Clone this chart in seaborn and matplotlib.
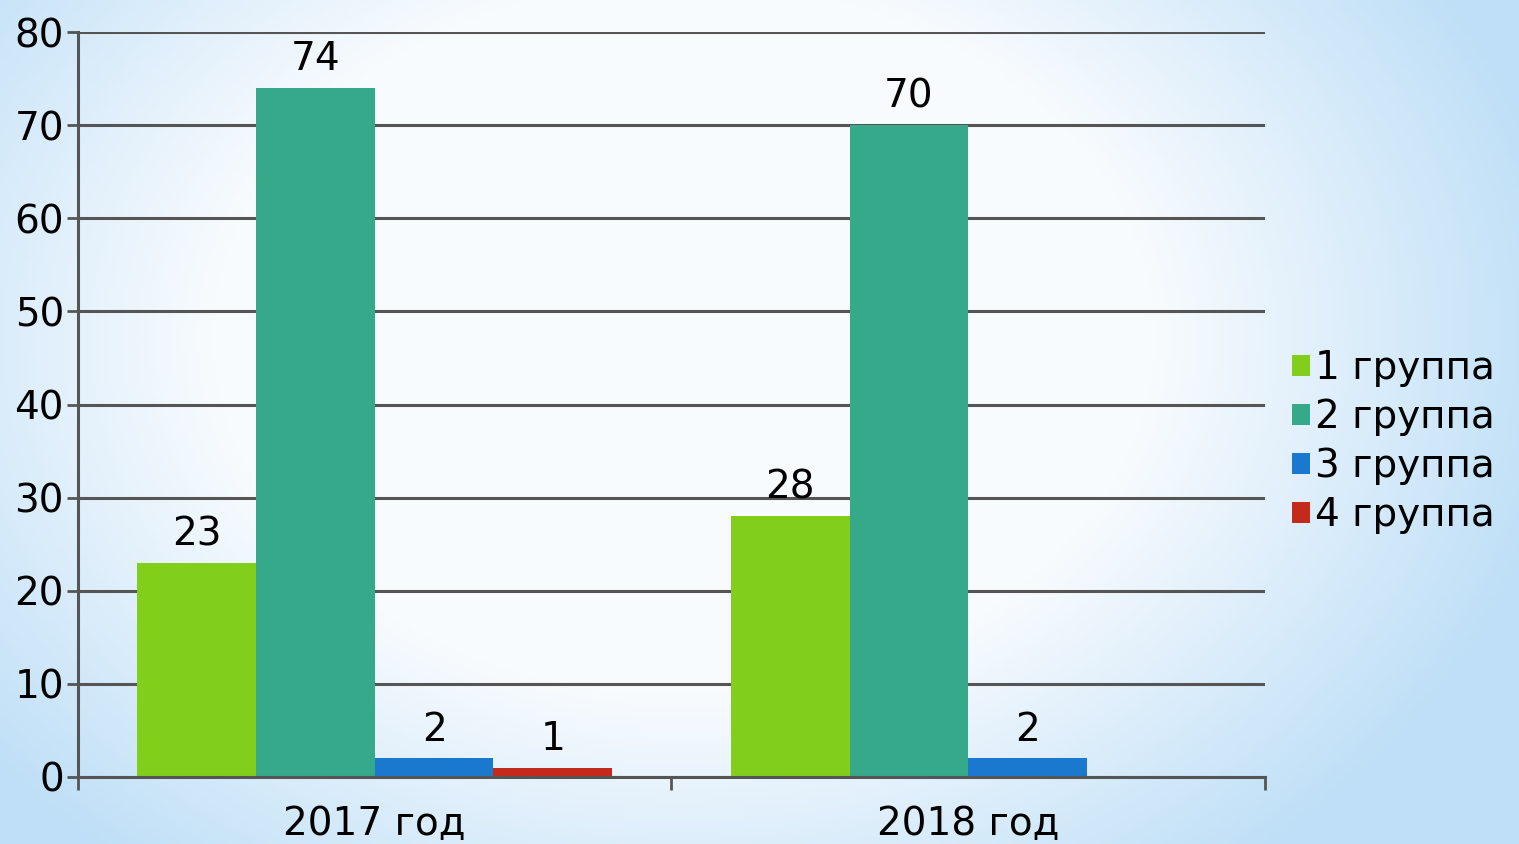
import numpy as np
import pandas as pd
import matplotlib
matplotlib.use("Agg")
import matplotlib.pyplot as plt
import seaborn as sns

# chart data
years = ["2017 год", "2018 год"]
groups = ["1 группа", "2 группа", "3 группа", "4 группа"]
group1 = [23, 28]
group2 = [74, 70]
group3 = [2, 2]
group4 = [1, np.nan]
colors = ["#82CF1B", "#36A98A", "#1B78CF", "#C42A1C"]

rows = []
for g, vals in zip(groups, [group1, group2, group3, group4]):
    for y, v in zip(years, vals):
        rows.append({"Год": y, "Группа": g, "Значение": v})
df = pd.DataFrame(rows)

sns.set_style("white")
plt.rcParams["font.family"] = ["DejaVu Sans"]
plt.rcParams["text.color"] = "black"
plt.rcParams["xtick.labelcolor"] = "black"
plt.rcParams["ytick.labelcolor"] = "black"

fig = plt.figure(figsize=(15.19, 8.44), dpi=100)

# soft blue gradient background
bg = fig.add_axes([0, 0, 1, 1], zorder=-5)
xx, yy = np.meshgrid(np.linspace(0, 1, 400), np.linspace(0, 1, 220))
d = np.sqrt(((xx - 0.45) / 0.62) ** 2 + ((yy - 0.4) / 0.85) ** 2)
t = np.clip((d - 0.5) / 0.45, 0, 1)[..., None]
white = np.array([248, 251, 254]) / 255
blue = np.array([190, 223, 247]) / 255
bg.imshow(white * (1 - t) + blue * t, aspect="auto", extent=[0, 1, 0, 1], origin="upper")
bg.axis("off")

ax = fig.add_axes([0.0513, 0.0794, 0.7815, 0.8826])
ax.set_facecolor("none")

sns.barplot(data=df, x="Год", y="Значение", hue="Группа", order=years,
            hue_order=groups, palette=colors, width=0.8, linewidth=0,
            saturation=1, ax=ax)

for cont in ax.containers:
    labels = ["" if np.isnan(v) else f"{v:g}" for v in cont.datavalues]
    ax.bar_label(cont, labels=labels, fontsize=28, padding=7, color="black")

ax.set_ylim(0, 80)
ax.set_xlim(-0.5, 1.5)
ax.set_yticks(range(0, 81, 10))
ax.yaxis.grid(True, color="#555555", linewidth=2.2)
ax.set_axisbelow(True)
ax.set_xlabel("")
ax.set_ylabel("")

ax.tick_params(axis="y", labelsize=28, length=8, width=2, color="#555555",
               left=True, pad=2)
ax.tick_params(axis="x", which="major", labelsize=28, length=0, pad=20)
ax.set_xticks([-0.5, 0.5, 1.5], minor=True)
ax.tick_params(axis="x", which="minor", length=9, width=2, color="#555555", bottom=True)

for side in ["top", "right"]:
    ax.spines[side].set_visible(False)
for side in ["left", "bottom"]:
    ax.spines[side].set_color("#555555")
    ax.spines[side].set_linewidth(2.2)

handles, lbls = ax.get_legend_handles_labels()
ax.legend(handles, lbls, loc="center left", bbox_to_anchor=(1.01, 0.45),
          frameon=False, fontsize=28, handlelength=0.45, handleheight=0.45,
          handletextpad=0.12, labelspacing=0.28, borderaxespad=0)

fig.savefig("out.png", dpi=100)
